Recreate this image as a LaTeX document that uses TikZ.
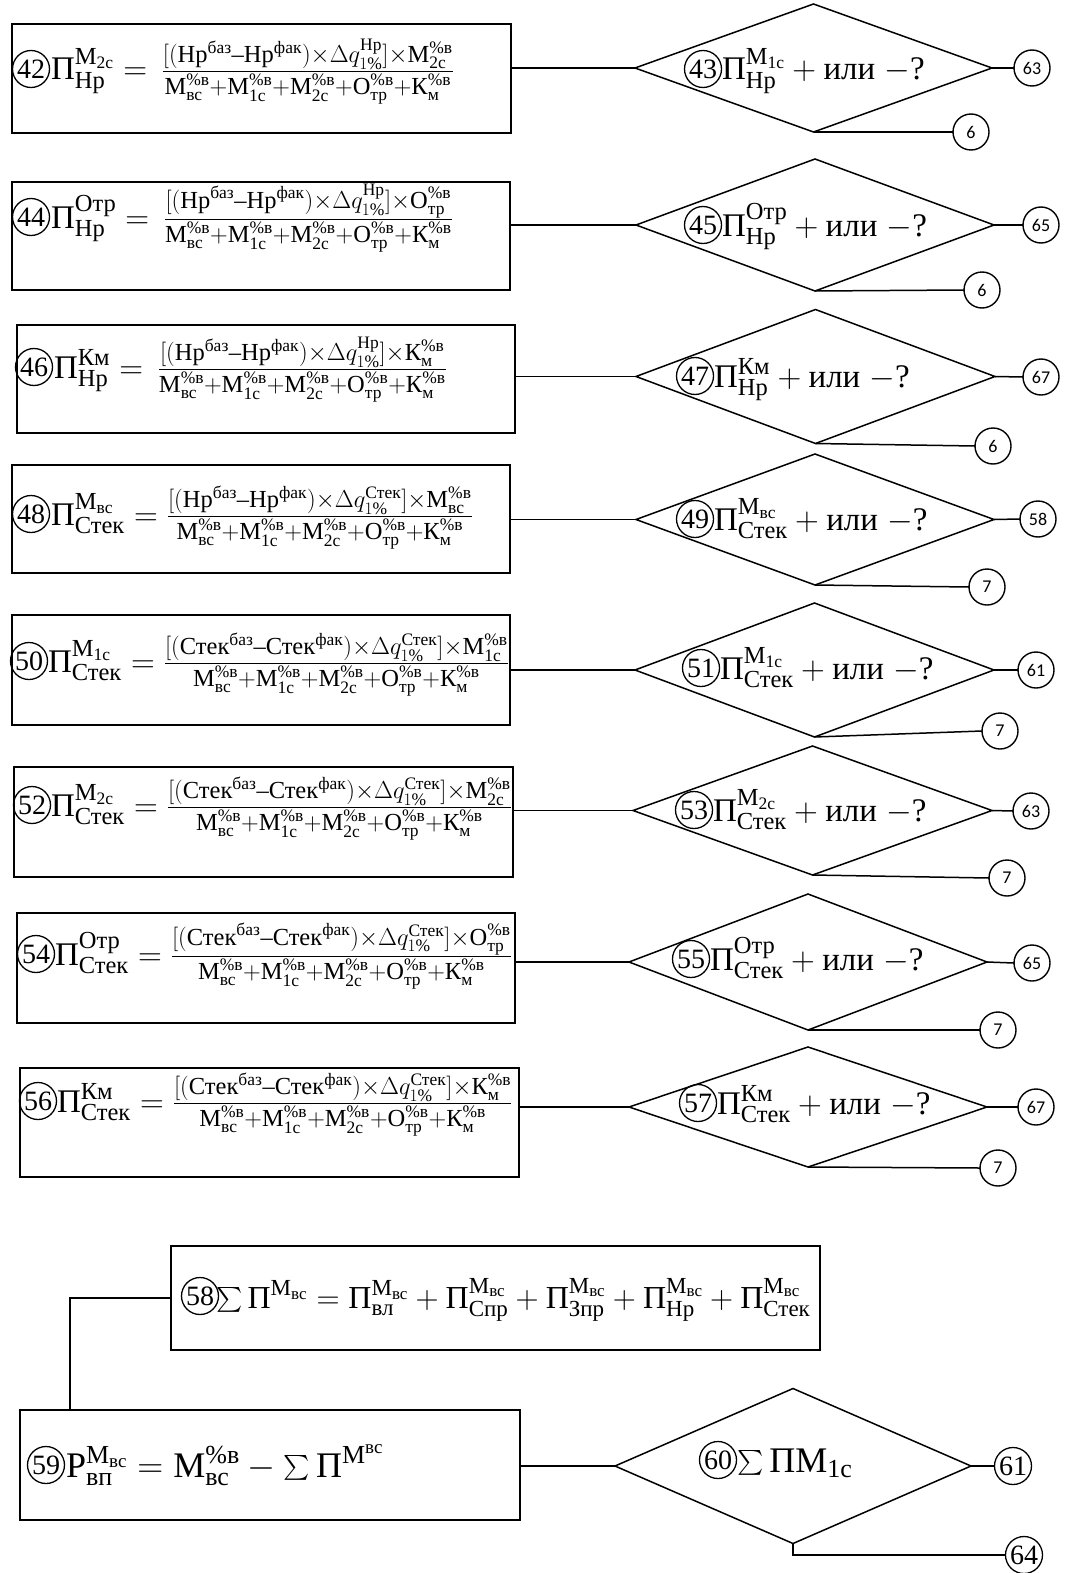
\RequirePackage{fix-cm}
\documentclass[tikz,border=0pt]{standalone}
\usepackage{amsmath}
\usepackage{fontspec}
\setmainfont{Liberation Serif}
\newfontfamily\numfont{Carlito}
\usetikzlibrary{shapes.geometric,calc}
\DeclareMathSizes{33}{33}{24.5}{17.5}
\DeclareMathSizes{32}{32}{23}{17}
\DeclareMathSizes{36}{36}{26}{19}
\newcommand{\tx}[1]{\text{#1}}
\newcommand{\DEN}{\tx{М}^{\%\tx{в}}_{\tx{вс}}+\tx{М}^{\%\tx{в}}_{\tx{1с}}+\tx{М}^{\%\tx{в}}_{\tx{2с}}+\tx{О}^{\%\tx{в}}_{\tx{тр}}+\tx{К}^{\%\tx{в}}_{\tx{м}}}
\newcommand{\NUM}[3]{[(\tx{#1}^{\tx{баз}}\tx{–}\tx{#1}^{\tx{фак}})\times\Delta q^{\tx{#2}}_{1\%}]\times #3}
\newcommand{\PP}[2]{\tx{П}^{#1}_{\tx{#2}}}
\newcommand{\Mi}[1]{\tx{М}_{\tx{#1}}}
\newcommand{\PV}[2]{\tx{#1}^{\%\tx{в}}_{\tx{#2}}}
\newcommand{\QQ}{+\tx{или}\;{-}\tx{?}}
\newcommand{\FR}[2]{\genfrac{}{}{1.3pt}{1}{#1}{#2}}
\begin{document}
\begin{tikzpicture}[x=1pt,y=-1pt,
  line/.style={line width=1.5pt},
  box/.style={draw,line width=1.5pt,rectangle,inner sep=0pt,outer sep=0pt},
  dia/.style={draw,line width=1.5pt,diamond,inner sep=0pt,outer sep=0pt},
  cnum/.style={draw,circle,line width=1.3pt,inner sep=0pt,outer sep=0pt,minimum size=37pt,font=\fontsize{28}{28}\selectfont},
  endc/.style={draw,circle,line width=1.4pt,inner sep=0pt,outer sep=0pt,minimum size=36pt,font=\numfont\fontsize{18}{18}\selectfont},
  ftxt/.style={inner sep=0pt,outer sep=0pt,anchor=base west,font=\fontsize{33}{40}\selectfont},
  stxt/.style={inner sep=0pt,outer sep=0pt,anchor=base west,font=\fontsize{32}{38}\selectfont},
  btxt/.style={inner sep=0pt,outer sep=0pt,anchor=base west,font=\fontsize{36}{42}\selectfont}]
\path[fill=white,use as bounding box] (0,0) rectangle (1065,1573);

% ---------- boxes ----------
\node[box,minimum width=499pt,minimum height=109pt] (b42) at (261.5,78.5) {};
\node[box,minimum width=498pt,minimum height=108pt] (b44) at (261,236) {};
\node[box,minimum width=498pt,minimum height=108pt] (b46) at (266,379) {};
\node[box,minimum width=498pt,minimum height=108pt] (b48) at (261,519) {};
\node[box,minimum width=498pt,minimum height=110pt] (b50) at (261,670) {};
\node[box,minimum width=499pt,minimum height=110pt] (b52) at (263.5,822) {};
\node[box,minimum width=498pt,minimum height=110pt] (b54) at (266,968) {};
\node[box,minimum width=499pt,minimum height=109pt] (b56) at (269.5,1122.5) {};
\node[box,minimum width=649pt,minimum height=104pt] (b58) at (495.5,1298) {};
\node[box,minimum width=500pt,minimum height=110pt] (b59) at (270,1465) {};

% ---------- diamonds ----------
\node[dia,minimum width=357pt,minimum height=128pt] (d43) at (813.5,68) {};
\node[dia,minimum width=358pt,minimum height=132pt] (d45) at (815,225) {};
\node[dia,minimum width=359pt,minimum height=134pt] (d47) at (815.5,376.5) {};
\node[dia,minimum width=358pt,minimum height=131pt] (d49) at (815,519.5) {};
\node[dia,minimum width=359pt,minimum height=134pt] (d51) at (814.5,670) {};
\node[dia,minimum width=359pt,minimum height=129pt] (d53) at (812.5,810.5) {};
\node[dia,minimum width=358pt,minimum height=136pt] (d55) at (808,962) {};
\node[dia,minimum width=358pt,minimum height=120pt] (d57) at (808,1107) {};
\node[dia,minimum width=356pt,minimum height=155pt] (d60) at (793,1466) {};

% ---------- formulas in boxes ----------
\node[cnum] (n42) at (31,69) {42};
\node[ftxt] (f42) at (51,80) {$\PP{\Mi{2с}}{Нр} =\, \FR{\NUM{Нр}{Нр}{\PV{М}{2с}}}{\DEN}$};
\node[cnum] (n44) at (31,217) {44};
\node[ftxt] (f44) at (51,228) {$\PP{\tx{Отр}}{Нр} =\, \FR{\NUM{Нр}{Нр}{\PV{О}{тр}}}{\DEN}$};
\node[cnum] (n46) at (34,367) {46};
\node[ftxt] (f46) at (54,378) {$\PP{\tx{Км}}{Нр} =\, \FR{\NUM{Нр}{Нр}{\PV{К}{м}}}{\DEN}$};
\node[cnum] (n48) at (31,514) {48};
\node[ftxt] (f48) at (51,525) {$\PP{\Mi{вс}}{Стек} = \FR{\NUM{Нр}{Стек}{\PV{М}{вс}}}{\DEN}$};
\node[cnum] (n50) at (29,661) {50};
\node[ftxt] (f50) at (48,672) {$\PP{\Mi{1с}}{Стек} = \FR{\NUM{Стек}{Стек}{\PV{М}{1с}}}{\DEN}$};
\node[cnum] (n52) at (32,805) {52};
\node[ftxt] (f52) at (51,816) {$\PP{\Mi{2с}}{Стек} = \FR{\NUM{Стек}{Стек}{\PV{М}{2с}}}{\DEN}$};
\node[cnum] (n54) at (36,954) {54};
\node[ftxt] (f54) at (55,965) {$\PP{\tx{Отр}}{Стек} = \FR{\NUM{Стек}{Стек}{\PV{О}{тр}}}{\DEN}$};
\node[cnum] (n56) at (38,1101) {56};
\node[ftxt] (f56) at (57,1112) {$\PP{\tx{Км}}{Стек} = \FR{\NUM{Стек}{Стек}{\PV{К}{м}}}{\DEN}$};

% ---------- texts in diamonds ----------
\node[cnum] (n43) at (703,69) {43};
\node[ftxt] (t43) at (722,80) {$\PP{\Mi{1с}}{Нр}\QQ$};
\node[cnum] (n45) at (703,225) {45};
\node[ftxt] (t45) at (722,236) {$\PP{\tx{Отр}}{Нр}\QQ$};
\node[cnum] (n47) at (695,376) {47};
\node[ftxt] (t47) at (714,387) {$\PP{\tx{Км}}{Нр}\QQ$};
\node[cnum] (n49) at (695,519) {49};
\node[ftxt] (t49) at (714,530) {$\PP{\Mi{вс}}{Стек}\QQ$};
\node[cnum] (n51) at (701,668) {51};
\node[ftxt] (t51) at (720,679) {$\PP{\Mi{1с}}{Стек}\QQ$};
\node[cnum] (n53) at (694,810) {53};
\node[ftxt] (t53) at (713,821) {$\PP{\Mi{2с}}{Стек}\QQ$};
\node[cnum] (n55) at (691,959) {55};
\node[ftxt] (t55) at (710,970) {$\PP{\tx{Отр}}{Стек}\QQ$};
\node[cnum] (n57) at (698,1103) {57};
\node[ftxt] (t57) at (717,1114) {$\PP{\tx{Км}}{Стек}\QQ$};

% ---------- bottom group texts ----------
\node[cnum] (n58) at (200,1296) {58};
\node[stxt] (f58) at (216,1308) {$\sum\tx{П}^{\Mi{вс}} = \PP{\Mi{вс}}{вл} + \PP{\Mi{вс}}{Спр} + \PP{\Mi{вс}}{Зпр} + \PP{\Mi{вс}}{Нр} + \PP{\Mi{вс}}{Стек}$};
\node[cnum] (n59) at (46,1465) {59};
\node[btxt] (f59) at (66,1477) {$\tx{Р}^{\Mi{вс}}_{\tx{вп}} = \PV{М}{вс} - \sum\tx{П}^{\tx{М}^{\tx{вс}}}$};
\node[cnum] (n60) at (718,1460) {60};
\node[btxt] (t60) at (737,1472) {$\sum\tx{ПМ}_{\tx{1с}}$};

% ---------- end circles ----------
\node[endc] (e63a) at (1032,68) {63};
\node[endc] (e6a) at (971,132) {6};
\node[endc] (e65a) at (1041,225) {65};
\node[endc] (e6b) at (982,290) {6};
\node[endc] (e67a) at (1041,377) {67};
\node[endc] (e6c) at (993,446) {6};
\node[endc] (e58) at (1038,519) {58};
\node[endc] (e7a) at (987,587) {7};
\node[endc] (e61a) at (1036,670) {61};
\node[endc] (e7b) at (1000,731) {7};
\node[endc] (e63b) at (1031,811) {63};
\node[endc] (e7c) at (1007,878) {7};
\node[endc] (e65b) at (1032,963) {65};
\node[endc] (e7d) at (998,1030) {7};
\node[endc] (e67b) at (1036,1107) {67};
\node[endc] (e7e) at (998,1168) {7};
\node[cnum] (e61b) at (1013,1466) {61};
\node[cnum] (e64) at (1024,1555) {64};

% ---------- connectors ----------
\foreach \b/\d/\r/\s in {b42/d43/e63a/e6a, b44/d45/e65a/e6b, b46/d47/e67a/e6c, b48/d49/e58/e7a,
  b50/d51/e61a/e7b, b52/d53/e63b/e7c, b54/d55/e65b/e7d, b56/d57/e67b/e7e}{
  \draw[line] (\b.east |- \d.west) -- (\d.west);
  \draw[line] (\d.east) -- (\r.west);
  \draw[line] (\d.south) -- (\s.west);
}
\coordinate (k58) at (70,1298);
\draw[line] (b58.west) -- (k58) -- (k58 |- b59.north);
\draw[line] (b59.east |- d60.west) -- (d60.west);
\draw[line] (d60.east) -- (e61b.west);
\draw[line] (d60.south) |- (e64.west);
\end{tikzpicture}
\end{document}
